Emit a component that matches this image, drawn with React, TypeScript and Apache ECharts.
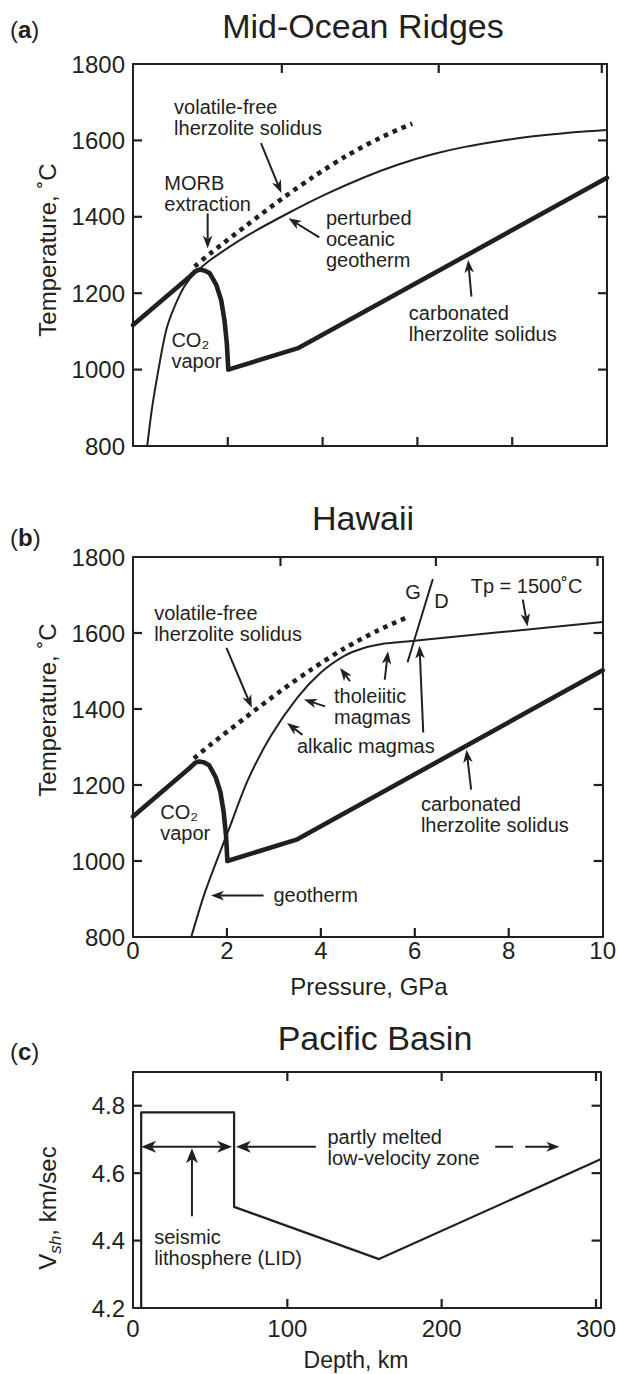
import React, { useEffect, useRef } from 'react';
import * as echarts from 'echarts';

const FONT = '"Liberation Sans", Arial, Helvetica, sans-serif';
const INK = '#231f20';

// ---------------- data ----------------
// axes
const pressureTickLabels = [0, 2, 4, 6, 8, 10];
const temperatureTickLabels = [800, 1000, 1200, 1400, 1600, 1800];
const depthTickLabels = [0, 100, 200, 300];
const vshTickLabels = [4.2, 4.4, 4.6, 4.8];
// depth marks (100, 200, 300 km) drawn on the pressure axes, in GPa
const depthMarkPressures = [3.14, 6.45, 9.89];

// carbonated lherzolite solidus (with CO2-vapor dome), panels a & b
const carbSolidusP = [0, 1.2, 1.32, 1.41, 1.52, 1.62, 1.76, 1.86, 1.93, 1.98, 2.01, 3.5, 10];
const carbSolidusT = [1117, 1244, 1258, 1262, 1259, 1252, 1221, 1182, 1129, 1068, 1000, 1057, 1502];

// volatile-free lherzolite solidus (dotted)
const drySolidusP = [1.3, 1.63, 2.4, 3.15, 3.81, 4.51, 5.22, 5.89];
const drySolidusT = [1270, 1304, 1378, 1448, 1505, 1560, 1607, 1644];

// perturbed oceanic geotherm (panel a)
const ridgeGeothermP = [0.3, 0.4, 0.51, 0.72, 1.0, 1.2, 1.41, 1.63, 2.4, 3.25, 4.05, 4.87, 5.6, 6.3, 7.0, 7.7, 8.4, 9.1, 10];
const ridgeGeothermT = [800, 898, 981, 1112, 1199, 1238, 1264, 1287, 1350, 1408, 1458, 1503, 1537, 1563, 1583, 1598, 1610, 1619, 1627];

// Hawaii geotherm, Tp = 1500 C (panel b)
const hawaiiGeothermP = [1.24, 1.55, 2.04, 2.45, 2.94, 3.5, 4.0, 4.5, 4.9, 5.3, 5.7, 6.2, 10];
const hawaiiGeothermT = [800, 924, 1083, 1214, 1330, 1430, 1496, 1540, 1560, 1571, 1576, 1582, 1629];

// graphite / diamond boundary
const gdBoundaryP = [5.85, 6.38];
const gdBoundaryT = [1525, 1740];

// Pacific basin shear-wave velocity profile (panel c)
const basinDepth = [5.3, 5.3, 65.5, 65.5, 159.4, 303];
const basinVsh = [4.2, 4.78, 4.78, 4.5, 4.345, 4.641];

// annotations: arrows [x1, y1, x2(tip), y2(tip), doubleHeaded]
const ridgeArrows = [
  [2.7, 1593, 3.13, 1462, 0],
  [1.575, 1409, 1.575, 1317, 0],
  [3.93, 1346, 3.28, 1396, 0],
  [7.14, 1191, 7.07, 1287, 0],
];
const hawaiiArrows = [
  [1.99, 1561, 2.53, 1403, 0],
  [4.09, 1407, 3.64, 1425, 0],
  [4.62, 1473, 4.41, 1508, 0],
  [5.36, 1477, 5.43, 1552, 0],
  [3.61, 1332, 3.28, 1363, 0],
  [6.18, 1338, 6.1, 1567, 0],
  [8.3, 1688, 8.4, 1617, 0],
  [7.2, 1188, 7.1, 1293, 0],
  [2.78, 909, 1.66, 909, 0],
];
const basinArrows = [
  [5.3, 4.678, 64.2, 4.678, 1],
  [118.5, 4.678, 66.7, 4.678, 0],
  [38.2, 4.472, 38.2, 4.674, 0],
];
const basinDashedArrows = [[234.7, 4.678, 276.3, 4.678, 0]];

// annotations: texts
const ridgeNoteText = ['volatile-free\nlherzolite solidus', 'MORB\nextraction', 'perturbed\noceanic\ngeotherm', 'CO₂\nvapor', 'carbonated\nlherzolite solidus'];
const ridgeNoteP = [0.867, 0.66, 4.07, 0.81, 5.82];
const ridgeNoteT = [1659, 1462, 1341, 1049, 1121];
const ridgeNoteAlign = ['left', 'left', 'left', 'left', 'left'];

const hawaiiNoteText = ['volatile-free\nlherzolite solidus', 'tholeiitic\nmagmas', 'alkalic magmas', 'CO₂\nvapor', 'carbonated\nlherzolite solidus', 'geotherm', 'Tp = 1500˚C', 'G', 'D'];
const hawaiiNoteP = [0.45, 4.28, 3.49, 0.58, 6.13, 2.99, 7.19, 5.96, 6.57];
const hawaiiNoteT = [1624.5, 1406, 1301.6, 1102, 1123, 911, 1724.5, 1709, 1683];
const hawaiiNoteAlign = ['left', 'left', 'left', 'left', 'left', 'left', 'left', 'center', 'center'];

const basinNoteText = ['seismic\nlithosphere (LID)', 'partly melted\nlow-velocity zone'];
const basinNoteDepth = [13.7, 126];
const basinNoteVsh = [4.378, 4.675];
const basinNoteAlign = ['left', 'left'];

const panelTitles = ['Mid-Ocean Ridges', 'Hawaii', 'Pacific Basin'];
const panelTags = ['a', 'b', 'c'];

// ---------------- helpers ----------------
const zip = (xs: number[], ys: number[]) => xs.map((x, i) => [x, ys[i]]);
const inner = (arr: number[]) => arr.slice(1, arr.length - 1);

function curve(g: number, xs: number[], ys: number[], width: number, opts: any = {}) {
  return {
    type: 'line', xAxisIndex: 2 * g, yAxisIndex: 2 * g, data: zip(xs, ys),
    symbol: 'none', showSymbol: false, silent: true, smooth: opts.smooth ?? false, z: opts.z ?? 3,
    lineStyle: { color: INK, width, join: 'round', cap: opts.cap ?? 'round', type: opts.type ?? 'solid' },
  };
}

// inward ticks on all four sides: [x, y, side] side 0=bottom,1=top,2=left,3=right
function tickSeries(g: number, data: number[][], len: number) {
  return {
    type: 'custom', xAxisIndex: 2 * g, yAxisIndex: 2 * g, silent: true, clip: false, z: 8,
    data, encode: { x: 0, y: 1 },
    renderItem: (params: any, api: any) => {
      const p = api.coord([api.value(0), api.value(1)]);
      const s = api.value(2);
      const d = s === 0 ? [0, -len] : s === 1 ? [0, len] : s === 2 ? [len, 0] : [-len, 0];
      return { type: 'line', shape: { x1: p[0], y1: p[1], x2: p[0] + d[0], y2: p[1] + d[1] }, style: { stroke: INK, lineWidth: 2.2 } };
    },
  };
}

function frameTicks(bottom: number[], top: number[], side: number[], x0: number, x1: number, y0: number, y1: number) {
  return [
    ...bottom.map((v) => [v, y0, 0]),
    ...top.map((v) => [v, y1, 1]),
    ...side.map((v) => [x0, v, 2]),
    ...side.map((v) => [x1, v, 3]),
  ];
}

function arrowSeries(g: number, arrows: number[][], L: number, W: number, dash?: number[]) {
  return {
    type: 'custom', xAxisIndex: 2 * g, yAxisIndex: 2 * g, silent: true, clip: false, z: 6,
    data: arrows, encode: { x: [0, 2], y: [1, 3] },
    renderItem: (params: any, api: any) => {
      const a = api.coord([api.value(0), api.value(1)]);
      const b = api.coord([api.value(2), api.value(3)]);
      const both = api.value(4) === 1;
      const head = (tip: number[], from: number[]) => {
        const dx = tip[0] - from[0];
        const dy = tip[1] - from[1];
        const len = Math.hypot(dx, dy) || 1;
        const ux = dx / len, uy = dy / len;
        const nx = -uy, ny = ux;
        const bx = tip[0] - ux * L, by = tip[1] - uy * L;
        const neck = [tip[0] - ux * L * 0.72, tip[1] - uy * L * 0.72];
        return {
          neck,
          el: { type: 'polygon', shape: { points: [[tip[0], tip[1]], [bx + nx * W, by + ny * W], neck, [bx - nx * W, by - ny * W]] }, style: { fill: INK } },
        };
      };
      const children: any[] = [];
      const hb = head(b, a);
      let start = a;
      children.push(hb.el);
      if (both) {
        const ha = head(a, b);
        children.push(ha.el);
        start = ha.neck;
      }
      children.push({
        type: 'line',
        shape: { x1: start[0], y1: start[1], x2: hb.neck[0], y2: hb.neck[1] },
        style: { stroke: INK, lineWidth: 2, lineDash: dash ?? null, fill: null },
      });
      return { type: 'group', children };
    },
  };
}

function textSeries(g: number, xs: number[], ys: number[], texts: string[], aligns: string[], size: number, lh: number) {
  return {
    type: 'custom', xAxisIndex: 2 * g, yAxisIndex: 2 * g, silent: true, clip: false, z: 7,
    data: zip(xs, ys),
    renderItem: (params: any, api: any) => {
      const p = api.coord([api.value(0), api.value(1)]);
      const i = params.dataIndex;
      return {
        type: 'text', x: p[0], y: p[1],
        style: { text: texts[i], fill: INK, font: `${size}px ${FONT}`, align: aligns[i], verticalAlign: 'middle', lineHeight: lh },
      };
    },
  };
}

const axisLine = { show: true, onZero: false, lineStyle: { color: INK, width: 2 } };
const noTick = { show: false };
const noSplit = { show: false };
const label = (margin: number, extra: any = {}) => ({ show: true, color: INK, fontFamily: FONT, fontSize: 24, margin, ...extra });

function buildOption() {
  const grids = [
    { left: 133, top: 64, width: 474, height: 382 },
    { left: 133, top: 557, width: 474, height: 380 },
    { left: 133, top: 1072, width: 474, height: 236 },
  ];
  const pMin = pressureTickLabels[0];
  const pMax = pressureTickLabels[pressureTickLabels.length - 1];
  const tMin = temperatureTickLabels[0];
  const tMax = temperatureTickLabels[temperatureTickLabels.length - 1];
  const dMin = depthTickLabels[0];
  const dMax = 303;
  const vMin = vshTickLabels[0];
  const vMax = 4.9;
  const plain = (v: number) => String(v);

  const xAxis: any[] = [];
  const yAxis: any[] = [];
  for (let g = 0; g < 2; g++) {
    xAxis.push({ gridIndex: g, type: 'value', position: 'bottom', min: pMin, max: pMax, interval: 2, axisLine, axisTick: noTick, splitLine: noSplit, axisLabel: g === 1 ? label(1, { formatter: plain }) : { show: false } });
    xAxis.push({ gridIndex: g, type: 'value', position: 'top', min: pMin, max: pMax, interval: 2, axisLine, axisTick: noTick, splitLine: noSplit, axisLabel: { show: false } });
    yAxis.push({ gridIndex: g, type: 'value', position: 'left', min: tMin, max: tMax, interval: 200, axisLine, axisTick: noTick, splitLine: noSplit, axisLabel: label(8, { formatter: plain }) });
    yAxis.push({ gridIndex: g, type: 'value', position: 'right', min: tMin, max: tMax, interval: 200, axisLine, axisTick: noTick, splitLine: noSplit, axisLabel: { show: false } });
  }
  xAxis.push({ gridIndex: 2, type: 'value', position: 'bottom', min: dMin, max: dMax, interval: 100, axisLine, axisTick: noTick, splitLine: noSplit, axisLabel: label(8, { showMaxLabel: false, formatter: plain }) });
  xAxis.push({ gridIndex: 2, type: 'value', position: 'top', min: dMin, max: dMax, interval: 100, axisLine, axisTick: noTick, splitLine: noSplit, axisLabel: { show: false } });
  yAxis.push({ gridIndex: 2, type: 'value', position: 'left', min: vMin, max: vMax, interval: 0.2, axisLine, axisTick: noTick, splitLine: noSplit, axisLabel: label(8, { showMaxLabel: false, formatter: (v: number) => v.toFixed(1) }) });
  yAxis.push({ gridIndex: 2, type: 'value', position: 'right', min: vMin, max: vMax, interval: 0.2, axisLine, axisTick: noTick, splitLine: noSplit, axisLabel: { show: false } });

  const series: any[] = [];
  for (let g = 0; g < 2; g++) {
    series.push(curve(g, carbSolidusP, carbSolidusT, 4.6, { z: 4 }));
    series.push(curve(g, drySolidusP, drySolidusT, 4.6, { type: [4.6, 5], cap: 'butt', smooth: 0.3 }));
    series.push(tickSeries(g, frameTicks(inner(pressureTickLabels), depthMarkPressures, inner(temperatureTickLabels), pMin, pMax, tMin, tMax), 9));
  }
  series.push(curve(0, ridgeGeothermP, ridgeGeothermT, 2, { smooth: 0.3 }));
  series.push(curve(1, hawaiiGeothermP, hawaiiGeothermT, 2, { smooth: 0.3 }));
  series.push(curve(1, gdBoundaryP, gdBoundaryT, 2));
  series.push(curve(2, basinDepth, basinVsh, 2.2, { cap: 'butt' }));
  series.push(tickSeries(2, frameTicks(depthTickLabels.slice(1), depthTickLabels.slice(1), vshTickLabels.slice(1), dMin, dMax, vMin, vMax), 9));

  series.push(arrowSeries(0, ridgeArrows, 13, 4.8));
  series.push(arrowSeries(1, hawaiiArrows, 13, 4.8));
  series.push(arrowSeries(2, basinArrows, 15, 6));
  series.push(arrowSeries(2, basinDashedArrows, 13, 5, [18, 12, 40]));

  series.push(textSeries(0, ridgeNoteP, ridgeNoteT, ridgeNoteText, ridgeNoteAlign, 20, 21));
  series.push(textSeries(1, hawaiiNoteP, hawaiiNoteT, hawaiiNoteText, hawaiiNoteAlign, 20, 21));
  series.push(textSeries(2, basinNoteDepth, basinNoteVsh, basinNoteText, basinNoteAlign, 20, 21));

  const txt = (text: string, x: number, y: number, size: number, extra: any = {}, rot = 0) => ({
    type: 'text', x, y, rotation: rot, silent: true,
    style: { text, fill: INK, font: `${size}px ${FONT}`, align: 'center', verticalAlign: 'middle', ...extra },
  });
  const titleX = [363, 363, 375];
  const titleY = [26, 518, 1038];
  const tagY = [29, 537.5, 1051.7];
  const graphic: any[] = [];
  panelTitles.forEach((t, i) => graphic.push(txt(t, titleX[i], titleY[i], 34)));
  panelTags.forEach((t, i) => graphic.push(txt(`({b|${t}})`, 10, tagY[i], 24, { align: 'left', rich: { b: { font: `bold 24px ${FONT}`, fill: INK } } })));
  graphic.push(txt('Temperature, ˚C', 47.5, 250, 24, {}, Math.PI / 2));
  graphic.push(txt('Temperature, ˚C', 47.5, 710, 24, {}, Math.PI / 2));
  graphic.push(txt('V{sub|sh}, km/sec', 47.5, 1208, 24, { rich: { sub: { font: `italic 17px ${FONT}`, fill: INK, lineHeight: 15, padding: [11, 0, 0, 0], verticalAlign: 'top' } } }, Math.PI / 2));
  graphic.push(txt('Pressure, GPa', 369, 986.6, 24));
  graphic.push(txt('Depth, km', 356, 1360, 23));

  return { animation: false, backgroundColor: '#ffffff', textStyle: { fontFamily: FONT, color: INK }, grid: grids, xAxis, yAxis, series, graphic };
}

export default function App() {
  const ref = useRef<HTMLDivElement>(null);
  useEffect(() => {
    document.body.style.margin = '0';
    const chart = echarts.init(ref.current as HTMLDivElement, undefined, { renderer: 'svg' });
    chart.setOption(buildOption() as any);
    return () => chart.dispose();
  }, []);
  return <div ref={ref} style={{ width: 619, height: 1374 }} />;
}
